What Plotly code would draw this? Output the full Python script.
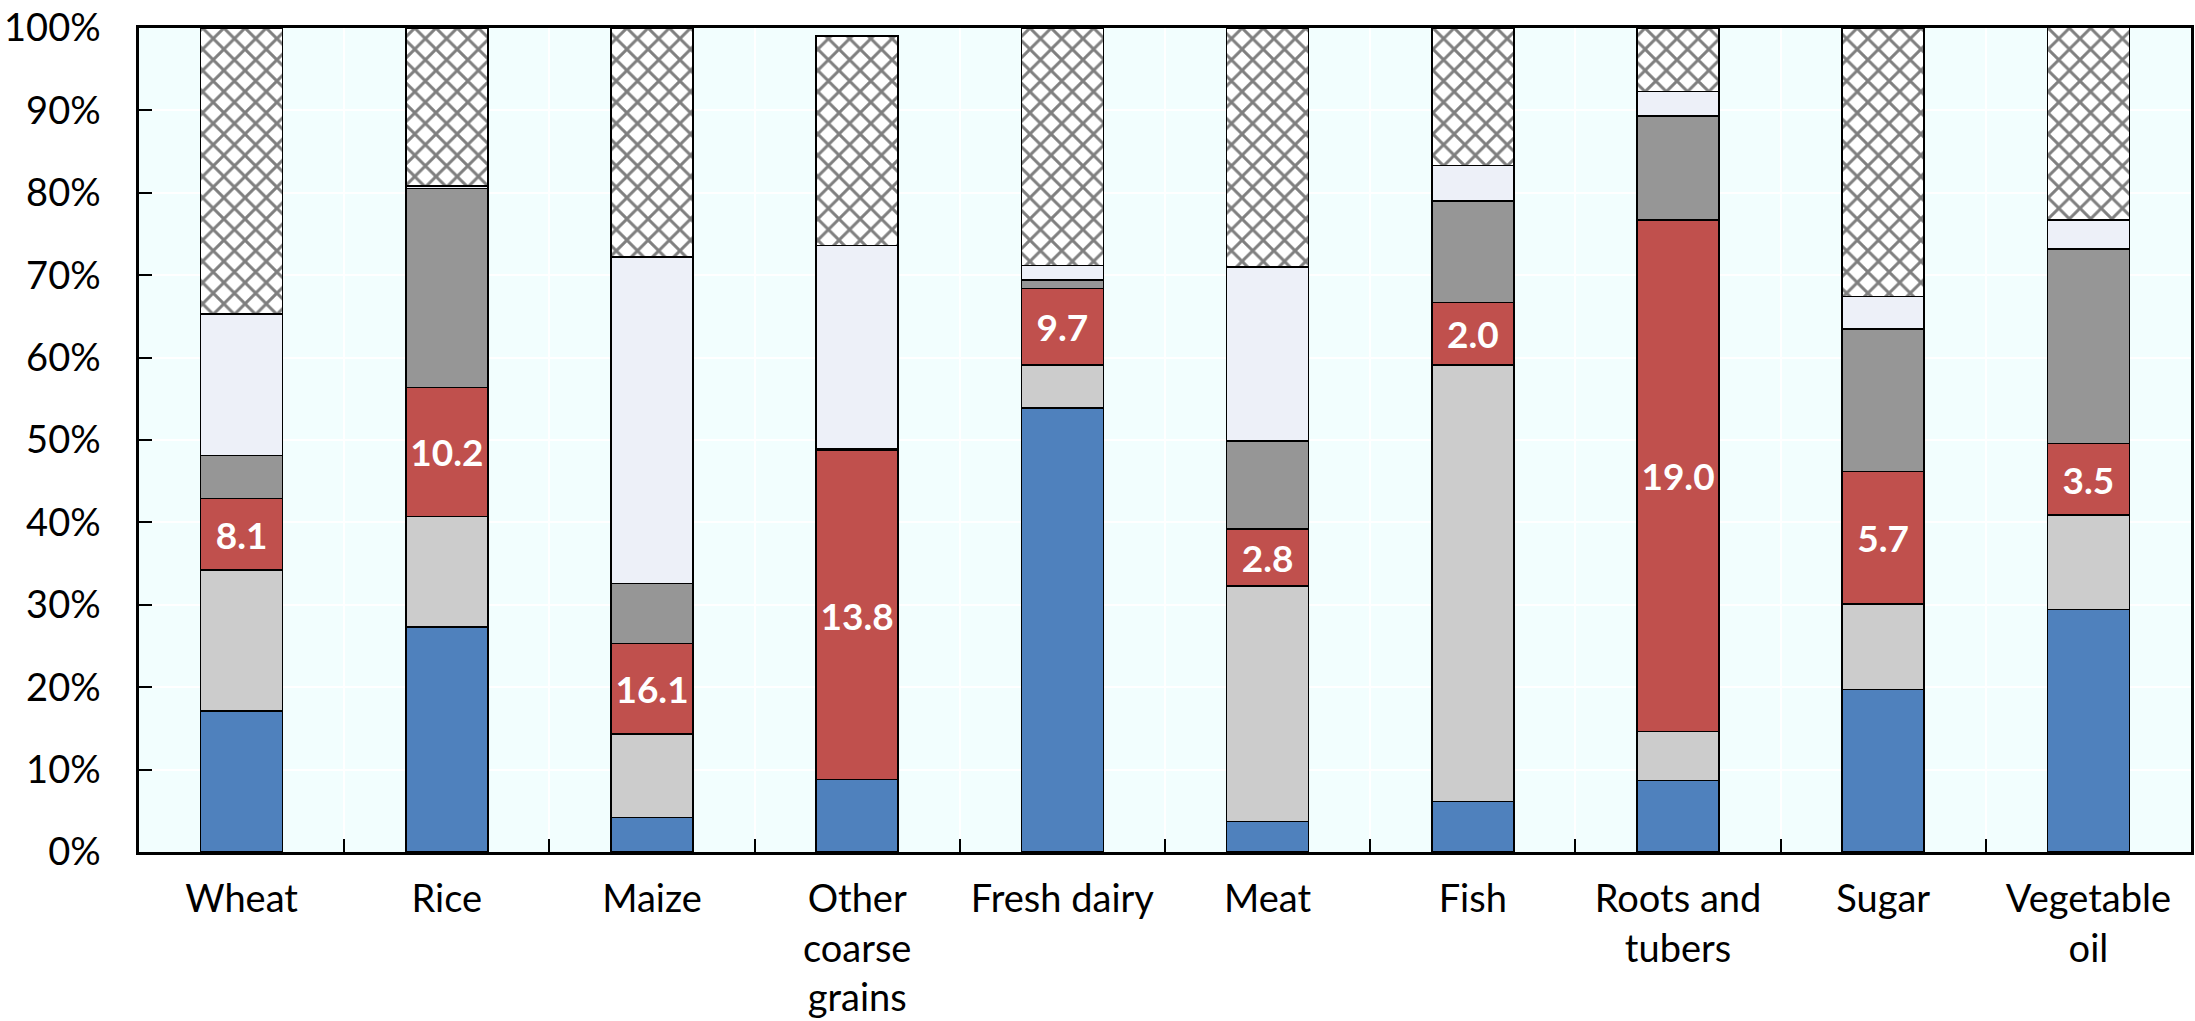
import plotly.graph_objects as go

categories = ["Wheat", "Rice", "Maize", "Other<br>coarse<br>grains", "Fresh dairy", "Meat",
              "Fish", "Roots and<br>tubers", "Sugar", "Vegetable<br>oil"]

s_blue = [17.1, 27.3, 4.2, 8.8, 53.9, 3.7, 6.1, 8.7, 19.7, 29.4]
s_lgray = [17.1, 13.4, 10.1, 0.0, 5.2, 28.6, 53.0, 5.9, 10.4, 11.5]
s_red = [8.7, 15.7, 11.0, 39.9, 9.3, 6.9, 7.6, 62.1, 16.1, 8.7]
s_dgray = [5.2, 24.1, 7.3, 0.2, 1.0, 10.7, 12.3, 12.6, 17.3, 23.6]
s_vlight = [17.2, 0.3, 39.6, 24.7, 1.8, 21.1, 4.3, 3.0, 3.9, 3.5]
s_hatch = [34.7, 19.2, 27.8, 25.4, 28.8, 29.0, 16.7, 7.7, 32.6, 23.4]
red_labels = ["8.1", "10.2", "16.1", "13.8", "9.7", "2.8", "2.0", "19.0", "5.7", "3.5"]

y_ticks = list(range(0, 101, 10))
y_ticktext = [f"{v}%" for v in y_ticks]

FONT = "Lato"
line = dict(color="black", width=1.5)

fig = go.Figure()
fig.add_trace(go.Bar(x=categories, y=s_blue, marker=dict(color="#4F81BD", line=line), hoverinfo="skip"))
fig.add_trace(go.Bar(x=categories, y=s_lgray, marker=dict(color="#CCCCCC", line=line), hoverinfo="skip"))
fig.add_trace(go.Bar(x=categories, y=s_red, marker=dict(color="#C0504D", line=line),
                     text=red_labels, textposition="inside", insidetextanchor="middle",
                     textangle=0, textfont=dict(family=FONT, size=37, color="white", weight="bold"),
                     hoverinfo="skip"))
fig.add_trace(go.Bar(x=categories, y=s_dgray, marker=dict(color="#969696", line=line), hoverinfo="skip"))
fig.add_trace(go.Bar(x=categories, y=s_vlight, marker=dict(color="#EDF0F8", line=line), hoverinfo="skip"))
fig.add_trace(go.Bar(x=categories, y=s_hatch,
                     marker=dict(color="white", line=line,
                                 pattern=dict(shape="x", fgcolor="black", bgcolor="white",
                                              size=15, solidity=0.35)),
                     hoverinfo="skip"))

fig.update_layout(
    barmode="stack",
    bargap=0.6,
    showlegend=False,
    width=2195, height=1021,
    margin=dict(l=139, r=4, t=28, b=169),
    paper_bgcolor="white",
    plot_bgcolor="#F2FEFE",
    font=dict(family=FONT, size=38, color="black"),
    uniformtext=dict(minsize=37, mode="show"),
)
fig.update_xaxes(
    type="category", tickson="boundaries", automargin=False,
    ticks="inside", ticklen=13, tickwidth=1.5, tickcolor="black",
    showgrid=True, gridcolor="white", gridwidth=1.5,
    showline=True, linecolor="black", linewidth=2.5, mirror=True,
    ticklabelstandoff=12, ticklabeloverflow="allow",
    tickfont=dict(family=FONT, size=38, color="black"),
)
fig.update_yaxes(
    range=[0, 100], tickvals=y_ticks, ticktext=y_ticktext, automargin=False,
    ticks="inside", ticklen=13, tickwidth=1.5, tickcolor="black",
    showgrid=True, gridcolor="white", gridwidth=1.5,
    showline=True, linecolor="black", linewidth=2.5, mirror=True,
    zeroline=False,
    ticklabelstandoff=28, ticklabeloverflow="allow",
    tickfont=dict(family=FONT, size=38, color="black"),
)

fig.write_html("out.html", config={"displayModeBar": False},
               post_script="document.body.style.margin='0';")
